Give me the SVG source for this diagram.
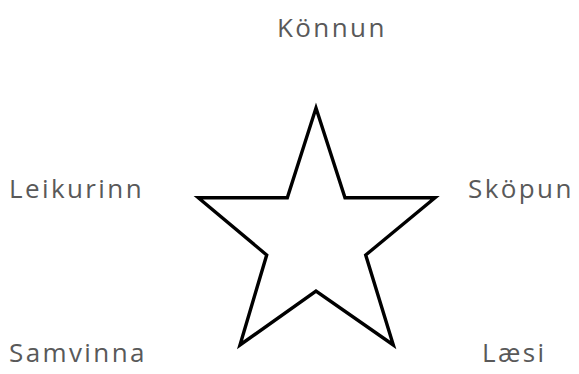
<svg xmlns="http://www.w3.org/2000/svg" width="579" height="374" viewBox="0 0 579 374">
<style>
.lbl{font-family:"Open Sans","Noto Sans","DejaVu Sans",sans-serif;font-size:26px;fill:#595959;letter-spacing:2.4px}
.star{fill:#ffffff;stroke:#000000;stroke-width:3.4;stroke-linejoin:miter}
</style>
<rect width="579" height="374" fill="#ffffff"/>
<g id="star">
<polygon class="star" points="316,108 345,197.7 435,197.7 365.7,255 393.3,345 316,291 240,345 266.7,255 198.3,197.7 287.3,197.7"/>
</g>
<g id="konnun"><text class="lbl" x="277" y="37">Könnun</text></g>
<g id="leikurinn"><text class="lbl" x="9" y="198">Leikurinn</text></g>
<g id="skopun"><text class="lbl" x="468" y="198">Sköpun</text></g>
<g id="samvinna"><text class="lbl" x="9" y="362">Samvinna</text></g>
<g id="laesi"><text class="lbl" x="482" y="362">Læsi</text></g>
</svg>
